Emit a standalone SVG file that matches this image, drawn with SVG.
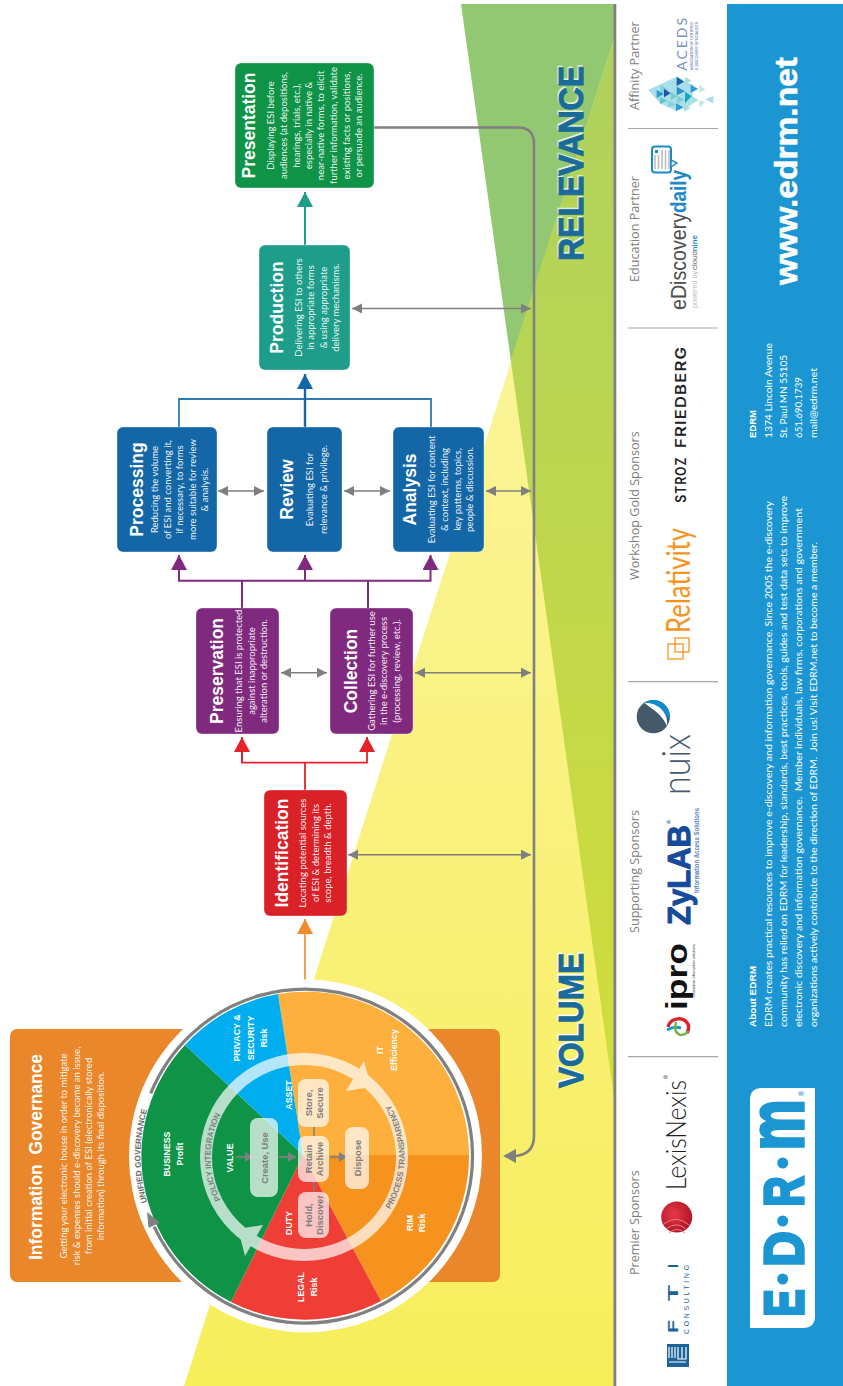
<svg xmlns="http://www.w3.org/2000/svg" xmlns:xlink="http://www.w3.org/1999/xlink" width="843" height="1386" viewBox="0 0 843 1386">
<style>
text{font-family:"Liberation Sans",Arial,sans-serif}
.node rect{stroke:#fff;stroke-opacity:.35;stroke-width:1}
.t{font:bold 17.5px "Liberation Sans",Arial,sans-serif;fill:#fff;text-anchor:middle}
.b{font:9.5px Lato,"Noto Sans",sans-serif;fill:#fff;fill-opacity:.95;text-anchor:middle}
.c{font:bold 8.8px "Liberation Sans",Arial,sans-serif;fill:#fff;text-anchor:middle}
.g{font:bold 9.4px "Liberation Sans",Arial,sans-serif;fill:#7d7d7d;text-anchor:middle}
.ring{font:bold 8.2px "Liberation Sans",Arial,sans-serif;fill:#808080;text-anchor:middle}
.s{font:12.6px "Open Sans",Lato,sans-serif;fill:#808080}
.a{font:9.6px Lato,"Noto Sans",sans-serif;fill:#fff}
.ab{font:bold 9.6px "Liberation Sans",Arial,sans-serif;fill:#fff}
.big{font:bold 35px "Liberation Sans",Arial,sans-serif;stroke-width:1}
.div{stroke:#a8a8a8;stroke-width:1.2;fill:none}
.dbl{stroke:#7f7f7f;stroke-width:1.5;fill:none;marker-start:url(#mg);marker-end:url(#mg)}
.box{fill:#fff;fill-opacity:.7}
</style>
<defs>
<linearGradient id="yg" gradientUnits="userSpaceOnUse" x1="0" y1="36" x2="0" y2="1386"><stop offset="0" stop-color="#fcf6ab"/><stop offset="1" stop-color="#f7ee5b"/></linearGradient>
<linearGradient id="og" gradientUnits="userSpaceOnUse" x1="0" y1="36" x2="0" y2="1105"><stop offset="0" stop-color="#aed15e"/><stop offset="1" stop-color="#d2dd3a"/></linearGradient>
<radialGradient id="sph" cx=".4" cy=".4" r=".7"><stop offset="0" stop-color="#e6384a"/><stop offset="1" stop-color="#a8121f"/></radialGradient>
<marker id="mg" markerUnits="userSpaceOnUse" markerWidth="11" markerHeight="11" refX="10" refY="5" orient="auto-start-reverse"><path d="M0 0L10 5L0 10Z" fill="#7f7f7f"/></marker>
<marker id="mo" markerUnits="userSpaceOnUse" markerWidth="16" markerHeight="16" refX="15" refY="8" orient="auto"><path d="M0 0L15 8L0 16Z" fill="#ee8b2c"/></marker>
<marker id="mr" markerUnits="userSpaceOnUse" markerWidth="16" markerHeight="16" refX="15" refY="8" orient="auto"><path d="M0 0L15 8L0 16Z" fill="#e52229"/></marker>
<marker id="mp" markerUnits="userSpaceOnUse" markerWidth="16" markerHeight="16" refX="15" refY="8" orient="auto"><path d="M0 0L15 8L0 16Z" fill="#7f2a7e"/></marker>
<marker id="mb" markerUnits="userSpaceOnUse" markerWidth="16" markerHeight="16" refX="15" refY="8" orient="auto"><path d="M0 0L15 8L0 16Z" fill="#1467a6"/></marker>
<marker id="mt" markerUnits="userSpaceOnUse" markerWidth="16" markerHeight="16" refX="15" refY="8" orient="auto"><path d="M0 0L15 8L0 16Z" fill="#1e9d8b"/></marker>
<marker id="ms" markerUnits="userSpaceOnUse" markerWidth="9" markerHeight="11" refX="8" refY="5" orient="auto"><path d="M0 0L8 5L0 10Z" fill="#808080"/></marker>
<path id="pPolicy" d="M243.6 1229A95 95 0 0 1 243.6 1085"/>
<path id="pProcess" d="M369 1234A101 101 0 0 0 369 1080"/>
<path id="pUnified" d="M179.1 1262A165 165 0 0 1 179.1 1050"/>
</defs>

<g id="background">
<polygon points="461,4 615,4 615,1105" fill="#93c872"/>
<polygon points="184,1386 615,36 615,1386" fill="url(#yg)"/>
<polygon points="510.8,360 615,36 615,1105" fill="url(#og)"/>
<rect x="613.5" y="4" width="2.8" height="1382" fill="#808080"/>
<rect x="727" y="4" width="116" height="1382" fill="#1c96d2"/>
</g>

<g id="labels-volume-relevance">
<text class="big" transform="translate(581.7,1086.5) rotate(-90)" fill="#fff" stroke="#fff" textLength="135" lengthAdjust="spacingAndGlyphs">VOLUME</text>
<text class="big" transform="translate(582.8,1088) rotate(-90)" fill="#1a6a9a" stroke="#1a6a9a" textLength="135" lengthAdjust="spacingAndGlyphs">VOLUME</text>
<text class="big" transform="translate(581.7,259.5) rotate(-90)" fill="#e4f2d8" stroke="#e4f2d8" textLength="195" lengthAdjust="spacingAndGlyphs">RELEVANCE</text>
<text class="big" transform="translate(582.8,261) rotate(-90)" fill="#1a6a9a" stroke="#1a6a9a" textLength="195" lengthAdjust="spacingAndGlyphs">RELEVANCE</text>
</g>

<g id="information-governance">
<rect x="10" y="1029" width="490" height="253" rx="7" fill="#e9872a"/>
<text transform="translate(42,1157) rotate(-90)" font-size="17.5" font-weight="bold" fill="#fff" text-anchor="middle" textLength="206" lengthAdjust="spacingAndGlyphs" xml:space="preserve">Information  Governance</text>
<text class="b" transform="translate(67,1156) rotate(-90)">Getting your electronic house in order to mitigate</text>
<text class="b" transform="translate(80,1156) rotate(-90)">risk &amp; expenses should e-discovery become an issue,</text>
<text class="b" transform="translate(92,1156) rotate(-90)">from initial creation of ESI (electronically stored</text>
<text class="b" transform="translate(104,1156) rotate(-90)">information) through its final disposition.</text>
</g>

<g id="connectors">
<path d="M305 985V919" fill="none" stroke="#ee8b2c" stroke-width="1.6" marker-end="url(#mo)"/>
<path d="M305 790V762.7" fill="none" stroke="#e52229" stroke-width="1.8"/>
<path d="M242 737V762.7H367V737" fill="none" stroke="#e52229" stroke-width="1.8" marker-end="url(#mr)"/>
<path d="M242 762.7V737" fill="none" stroke="#e52229" stroke-width="1.8" marker-end="url(#mr)"/>
<path d="M242 608V580.7M368 608V580.7" fill="none" stroke="#7f2a7e" stroke-width="2"/>
<path d="M179 555V580.7H430.5V555" fill="none" stroke="#7f2a7e" stroke-width="2" marker-end="url(#mp)"/>
<path d="M179 580.7V555" fill="none" stroke="#7f2a7e" stroke-width="2" marker-end="url(#mp)"/>
<path d="M305 580.7V555" fill="none" stroke="#7f2a7e" stroke-width="2" marker-end="url(#mp)"/>
<path d="M179 427V399H431V427" fill="none" stroke="#2e7ab0" stroke-width="1.8"/>
<path d="M305 427V374" fill="none" stroke="#1467a6" stroke-width="2.4" marker-end="url(#mb)"/>
<path d="M305 245V192" fill="none" stroke="#1e9d8b" stroke-width="2" marker-end="url(#mt)"/>
<path d="M374 127.5H518Q534 127.5 534 144V1136Q534 1156 512 1156" fill="none" stroke="#808080" stroke-width="2.6"/>
<polygon points="503,1156 516,1149 516,1163" fill="#808080"/>
<path class="dbl" d="M352 308.6H531"/>
<path class="dbl" d="M218 491H264"/>
<path class="dbl" d="M344 491H390"/>
<path class="dbl" d="M486 491H531"/>
<path class="dbl" d="M281 672.7H327"/>
<path class="dbl" d="M415 672.7H531"/>
<path class="dbl" d="M348 854.7H531"/>
</g>

<g id="wheel">
<circle cx="305.5" cy="1156" r="176.5" fill="#fff"/>
<path d="M303 1155L278 994A163.5 163.5 0 0 1 469 1155Z" fill="#fdb03d"/>
<path d="M303 1155L469 1155A163.5 163.5 0 0 1 381 1301Z" fill="#f6921e"/>
<path d="M303 1155L381 1301A163.5 163.5 0 0 1 231 1302Z" fill="#ef3e36"/>
<path d="M303 1155L231 1302A163.5 163.5 0 0 1 185 1045Z" fill="#0f9347"/>
<path d="M303 1155L185 1045A163.5 163.5 0 0 1 278 994Z" fill="#00aeef"/>
<path d="M150.7 1093.4A167 167 0 1 1 154.1 1226.6" fill="none" stroke="#808080" stroke-width="3.2"/>
<polygon points="147,1212 148.5,1228 160,1222.5" fill="#808080"/>
<text class="ring" style="fill:#6a6a6a"><textPath xlink:href="#pUnified" href="#pUnified" startOffset="50%">UNIFIED GOVERNANCE</textPath></text>
<g opacity=".7" fill="#fff">
<circle cx="304" cy="1157" r="98" fill="none" stroke="#fff" stroke-width="12"/>
<polygon points="364,1061 371,1087 346,1091"/>
<polygon points="263,1225 245,1256 238,1229"/>
</g>
<text class="ring"><textPath xlink:href="#pPolicy" href="#pPolicy" startOffset="50%">POLICY INTEGRATION</textPath></text>
<text class="ring"><textPath xlink:href="#pProcess" href="#pProcess" startOffset="50%">PROCESS TRANSPARENCY</textPath></text>
<g id="wheel-labels">
<text class="c" transform="translate(240,1038) rotate(-90)">PRIVACY &amp;</text>
<text class="c" transform="translate(254,1038) rotate(-90)">SECURITY</text>
<text class="c" transform="translate(267,1038) rotate(-90)">Risk</text>
<text class="c" transform="translate(383,1050) rotate(-90)">IT</text>
<text class="c" transform="translate(397,1050) rotate(-90)">Efficiency</text>
<text class="c" transform="translate(170,1154) rotate(-90)">BUSINESS</text>
<text class="c" transform="translate(183,1154) rotate(-90)">Profit</text>
<text class="c" transform="translate(413,1223) rotate(-90)">RIM</text>
<text class="c" transform="translate(425,1223) rotate(-90)">Risk</text>
<text class="c" transform="translate(304,1287) rotate(-90)">LEGAL</text>
<text class="c" transform="translate(317,1287) rotate(-90)">Risk</text>
<text class="c" transform="translate(292,1095) rotate(-90)">ASSET</text>
<text class="c" transform="translate(233,1158) rotate(-90)">VALUE</text>
<text class="c" transform="translate(292,1223) rotate(-90)">DUTY</text>
</g>
<g id="lifecycle">
<path d="M314 1127V1136M314 1182V1192" stroke="#808080" stroke-width="1.6" fill="none"/>
<path d="M330 1157H347" stroke="#808080" stroke-width="1.8" fill="none" marker-end="url(#ms)"/>
<path d="M236 1157H253" stroke="#808080" stroke-width="1.8" fill="none" marker-end="url(#ms)"/>
<path d="M279 1157H296" stroke="#808080" stroke-width="1.8" fill="none" marker-end="url(#ms)"/>
<rect class="box" x="250" y="1118" width="28" height="79" rx="8"/>
<rect class="box" x="298" y="1079" width="31" height="48" rx="8"/>
<rect class="box" x="298" y="1136" width="31" height="46" rx="8"/>
<rect class="box" x="298" y="1192" width="31" height="46" rx="8"/>
<rect class="box" x="345" y="1127" width="24" height="62" rx="8"/>
<text class="g" transform="translate(268,1158) rotate(-90)">Create, Use</text>
<text class="g" transform="translate(312,1103) rotate(-90)">Store,</text>
<text class="g" transform="translate(322.5,1103) rotate(-90)">Secure</text>
<text class="g" transform="translate(312,1159) rotate(-90)">Retain</text>
<text class="g" transform="translate(322.5,1159) rotate(-90)">Archive</text>
<text class="g" transform="translate(312,1215) rotate(-90)">Hold,</text>
<text class="g" transform="translate(322.5,1215) rotate(-90)">Discover</text>
<text class="g" transform="translate(361,1158) rotate(-90)">Dispose</text>
</g>
</g>

<g id="identification" class="node">
<rect x="264" y="790" width="83" height="126" rx="6" fill="#da2128"/>
<text class="t" transform="translate(288,853) rotate(-90)">Identification</text>
<text class="b" transform="translate(306,853) rotate(-90)">Locating potential sources</text>
<text class="b" transform="translate(319,853) rotate(-90)">of ESI &amp; determining its</text>
<text class="b" transform="translate(331,853) rotate(-90)">scope, breadth &amp; depth.</text>
</g>
<g id="preservation" class="node">
<rect x="196" y="608" width="83" height="126" rx="6" fill="#7f2a7e"/>
<text class="t" transform="translate(223,671) rotate(-90)">Preservation</text>
<text class="b" transform="translate(242,671) rotate(-90)">Ensuring that ESI is protected</text>
<text class="b" transform="translate(255,671) rotate(-90)">against inappropriate</text>
<text class="b" transform="translate(267,671) rotate(-90)">alteration or destruction.</text>
</g>
<g id="collection" class="node">
<rect x="330" y="608" width="83" height="126" rx="6" fill="#7f2a7e"/>
<text class="t" transform="translate(357,671) rotate(-90)">Collection</text>
<text class="b" transform="translate(375,671) rotate(-90)">Gathering ESI for further use</text>
<text class="b" transform="translate(387,671) rotate(-90)">in the e-discovery process</text>
<text class="b" transform="translate(400,671) rotate(-90)">(processing, review, etc.).</text>
</g>
<g id="processing" class="node">
<rect x="117" y="427" width="100" height="125" rx="6" fill="#1467a6"/>
<text class="t" transform="translate(143,489.5) rotate(-90)">Processing</text>
<text class="b" transform="translate(158,489.5) rotate(-90)">Reducing the volume</text>
<text class="b" transform="translate(171,489.5) rotate(-90)">of ESI and converting it,</text>
<text class="b" transform="translate(183,489.5) rotate(-90)">if necessary, to forms</text>
<text class="b" transform="translate(196,489.5) rotate(-90)">more suitable for review</text>
<text class="b" transform="translate(208,489.5) rotate(-90)">&amp; analysis.</text>
</g>
<g id="review" class="node">
<rect x="267" y="427" width="75" height="125" rx="6" fill="#1467a6"/>
<text class="t" transform="translate(293,489.5) rotate(-90)">Review</text>
<text class="b" transform="translate(313,489.5) rotate(-90)">Evaluating ESI for</text>
<text class="b" transform="translate(327,489.5) rotate(-90)">relevance &amp; privilege.</text>
</g>
<g id="analysis" class="node">
<rect x="393" y="427" width="91" height="125" rx="6" fill="#1467a6"/>
<text class="t" transform="translate(416,489.5) rotate(-90)">Analysis</text>
<text class="b" transform="translate(435,489.5) rotate(-90)">Evaluating ESI for content</text>
<text class="b" transform="translate(448,489.5) rotate(-90)">&amp; context, including</text>
<text class="b" transform="translate(461,489.5) rotate(-90)">key patterns, topics,</text>
<text class="b" transform="translate(473,489.5) rotate(-90)">people &amp; discussion.</text>
</g>
<g id="production" class="node">
<rect x="259" y="245" width="91" height="125" rx="6" fill="#1e9d8b"/>
<text class="t" transform="translate(283,307.5) rotate(-90)">Production</text>
<text class="b" transform="translate(302,307.5) rotate(-90)">Delivering ESI to others</text>
<text class="b" transform="translate(314,307.5) rotate(-90)">in appropriate forms</text>
<text class="b" transform="translate(327,307.5) rotate(-90)">&amp; using appropriate</text>
<text class="b" transform="translate(339,307.5) rotate(-90)">delivery mechanisms.</text>
</g>
<g id="presentation" class="node">
<rect x="235" y="63" width="139" height="125" rx="6" fill="#0f9347"/>
<text class="t" transform="translate(255,125.5) rotate(-90)">Presentation</text>
<text class="b" transform="translate(274,125.5) rotate(-90)">Displaying ESI before</text>
<text class="b" transform="translate(287,125.5) rotate(-90)">audiences (at depositions,</text>
<text class="b" transform="translate(300,125.5) rotate(-90)">hearings, trials, etc.),</text>
<text class="b" transform="translate(312,125.5) rotate(-90)">especially in native &amp;</text>
<text class="b" transform="translate(324,125.5) rotate(-90)">near-native forms, to elicit</text>
<text class="b" transform="translate(337,125.5) rotate(-90)">further information, validate</text>
<text class="b" transform="translate(350,125.5) rotate(-90)">existing facts or positions,</text>
<text class="b" transform="translate(362,125.5) rotate(-90)">or persuade an audience.</text>
</g>

<g id="sponsors">
<path class="div" d="M628 128.5H718M628 328H718M628 681.7H718M628 1056.7H718"/>
<text class="s" transform="translate(639,1275) rotate(-90)">Premier Sponsors</text>
<text class="s" transform="translate(639,933) rotate(-90)">Supporting Sponsors</text>
<text class="s" transform="translate(639,580) rotate(-90)">Workshop Gold Sponsors</text>
<text class="s" transform="translate(639,282) rotate(-90)">Education Partner</text>
<text class="s" transform="translate(639,110) rotate(-90)">Affinity Partner</text>
</g>

<g id="logo-fti">
<rect x="667" y="1344" width="22" height="23" fill="#1c6399"/>
<path d="M669 1347V1358M672 1347V1358M675 1347V1358M669 1362H686" stroke="#fff" stroke-width="1.2" fill="none"/>
<path d="M678 1347V1359H686V1347M682 1347V1359" stroke="#fff" stroke-width="1.2" fill="none"/>
<g font-size="15" font-weight="bold" fill="#1c6399">
<text transform="translate(678,1333) rotate(-90)" textLength="13" lengthAdjust="spacingAndGlyphs">F</text>
<text transform="translate(678,1301) rotate(-90)" textLength="16" lengthAdjust="spacingAndGlyphs">T</text>
<text transform="translate(678,1268) rotate(-90)" textLength="4" lengthAdjust="spacingAndGlyphs">I</text>
</g>
<text transform="translate(689,1334) rotate(-90)" font-size="6.8" fill="#1c6399" textLength="69">CONSULTING</text>
</g>
<g id="logo-lexisnexis">
<circle cx="676.7" cy="1217" r="15.5" fill="url(#sph)"/>
<path d="M664 1224Q676 1214 689 1225M666 1229Q677 1220 687 1230M669 1233Q677 1226 685 1233" stroke="#ee7d85" stroke-width="1" fill="none"/>
<text transform="translate(685.7,1190) rotate(-90)" font-size="28" font-weight="300" fill="#222" textLength="110" lengthAdjust="spacingAndGlyphs" style="font-family:Lato,sans-serif">LexisNexis</text>
<text transform="translate(668,1079) rotate(-90)" font-size="5.5" fill="#222">®</text>
</g>
<g id="logo-ipro">
<path d="M668 1027A11 11 0 0 1 688.5 1025Q689 1030 687 1033" stroke="#d9232e" stroke-width="3.4" fill="none"/>
<path d="M667 1030Q674 1026 681 1028" stroke="#1c96d2" stroke-width="3" fill="none"/>
<path d="M676 1022Q673 1032 680 1035Q686 1035 688 1031" stroke="#6db33f" stroke-width="2.4" fill="none"/>
<text transform="translate(686.5,1010) rotate(-90)" font-size="30" font-weight="bold" fill="#111" textLength="67" lengthAdjust="spacingAndGlyphs">ipro</text>
<text transform="translate(695,997) rotate(-90)" font-size="3.6" fill="#333" textLength="53" lengthAdjust="spacingAndGlyphs">innovative information solutions</text>
</g>
<g id="logo-zylab">
<text transform="translate(690,925) rotate(-90)" font-size="32" font-weight="bold" fill="#164a9b" stroke="#164a9b" stroke-width="1" textLength="100" lengthAdjust="spacingAndGlyphs">ZyLAB</text>
<text transform="translate(671,824) rotate(-90)" font-size="6" fill="#164a9b">®</text>
<text transform="translate(699,893) rotate(-90)" font-size="7.4" font-weight="bold" fill="#5b7ec6" textLength="85" lengthAdjust="spacingAndGlyphs">Information Access Solutions</text>
</g>
<g id="logo-nuix">
<circle cx="653.3" cy="716.7" r="16.6" fill="#44596a"/>
<path d="M644 703A16.6 16.6 0 0 1 669.7 720C664 710 655 704 644 703Z" fill="#0b8dcb"/>
<path d="M644.5 703C657 702 669 712 667 726C662 714 652 709 644.5 703Z" fill="#fff"/>
<text transform="translate(690,795) rotate(-90)" font-size="39" font-weight="300" fill="#44596a" textLength="61" lengthAdjust="spacingAndGlyphs" style="font-family:Lato,sans-serif">nuix</text>
</g>
<g id="logo-relativity">
<rect x="668" y="644" width="15" height="15" fill="none" stroke="#f7941e" stroke-width="1.3"/>
<rect x="675" y="638" width="14" height="14" fill="none" stroke="#f7941e" stroke-width="1.3"/>
<text transform="translate(690,633) rotate(-90)" font-size="32" fill="#f7941e" textLength="105" lengthAdjust="spacingAndGlyphs" style="font-family:Lato,sans-serif">Relativity</text>
</g>
<g id="logo-stroz">
<text transform="translate(685.7,502.7) rotate(-90)" font-size="14" font-weight="600" fill="#222" textLength="46" lengthAdjust="spacingAndGlyphs" style="font-family:Inter,sans-serif;letter-spacing:1px">STROZ</text>
<text transform="translate(685.7,448) rotate(-90)" font-size="14" font-weight="600" fill="#222" textLength="102" lengthAdjust="spacingAndGlyphs" style="font-family:Inter,sans-serif;letter-spacing:1px">FRIEDBERG</text>
</g>
<g id="logo-ediscovery">
<rect x="652" y="146.5" width="19" height="26" rx="3" fill="#fff" stroke="#1c8ac8" stroke-width="2"/>
<path d="M671 160L677 163L671 167Z" fill="#fff" stroke="#1c8ac8" stroke-width="1.4"/>
<rect x="655" y="150" width="3" height="3" fill="#1c8ac8"/>
<path d="M655 155V169M658.5 155V169M662 150V169M665.5 150V169M669 150V169" stroke="#bbb" stroke-width="1.5" fill="none"/>
<text transform="translate(685.7,310) rotate(-90)" font-size="22" fill="#4d4d4d" textLength="97" lengthAdjust="spacingAndGlyphs">eDiscovery</text>
<text transform="translate(685.7,213) rotate(-90)" font-size="22" font-weight="bold" fill="#1c8ac8" textLength="43" lengthAdjust="spacingAndGlyphs">daily</text>
<text transform="translate(696.7,308) rotate(-90)" font-size="7" fill="#bbb" textLength="37" lengthAdjust="spacingAndGlyphs">powered by</text>
<text transform="translate(696.7,270) rotate(-90)" font-size="7.5" fill="#666" textLength="35" lengthAdjust="spacingAndGlyphs">cloud<tspan fill="#1c8ac8" font-weight="bold">nine</tspan></text>
</g>
<g id="logo-aceds">
<g transform="translate(640,10) scale(.3333)">
<polygon points="25,240 110,200 160,225 155,285 110,303 60,280" fill="#a9dfe6"/>
<polygon points="110,200 132,215 110,228" fill="#1a5fb0"/>
<polygon points="135,200 155,212 135,222" fill="#a5e0dc"/>
<polygon points="85,213 108,228 85,240" fill="#a9dff5"/>
<polygon points="110,230 135,244 110,256" fill="#2d8ec8"/>
<polygon points="152,224 175,237 152,248" fill="#2d9ad8"/>
<polygon points="178,224 196,240 178,248" fill="#bfe8e4"/>
<polygon points="62,224 85,240 62,250" fill="#7ccfd8"/>
<polygon points="25,240 50,228 50,252" fill="#a7dcef"/>
<polygon points="50,240 72,252 50,264" fill="#2d9ad8"/>
<polygon points="72,236 92,250 72,262" fill="#254ea8"/>
<polygon points="92,246 112,258 92,270" fill="#6fcfc0"/>
<polygon points="112,258 135,268 112,280" fill="#7ccfd8"/>
<polygon points="135,246 155,258 135,280" fill="#14a8c4"/>
<polygon points="60,262 82,272 60,282" fill="#5cc5c8"/>
<polygon points="85,272 108,284 85,292" fill="#7fd0e0"/>
<polygon points="108,280 130,292 108,303" fill="#2d9ad8"/>
<polygon points="132,284 152,294 132,305" fill="#a5e0dc"/>
<polygon points="156,258 176,270 156,282" fill="#a5e0dc"/>
<polygon points="178,270 196,276 178,292" fill="#bfe8e4"/>
<polygon points="196,268 220,258 220,280" fill="#a7dcef"/>
</g>
<text transform="translate(686.7,70.7) rotate(-90)" font-size="14" fill="#7f93bd" textLength="52.7" style="font-family:Lato,sans-serif">ACEDS</text>
<text transform="translate(692.7,70) rotate(-90)" font-size="3.5" font-weight="bold" fill="#7f93bd" textLength="48">ASSOCIATION OF CERTIFIED</text>
<text transform="translate(698,70) rotate(-90)" font-size="3.5" font-weight="bold" fill="#7f93bd" textLength="48">E-DISCOVERY SPECIALISTS</text>
</g>

<g id="about">
<path d="M762 1088H815V1316Q815 1328 803 1328H750V1100Q750 1088 762 1088Z" fill="#fff"/>
<g fill="#1c96d2" stroke="#1c96d2" stroke-width="3.4" font-weight="bold">
<text transform="translate(802.5,1316.5) rotate(-90)" font-size="56" textLength="27" lengthAdjust="spacingAndGlyphs">E</text>
<text transform="translate(802.5,1266.5) rotate(-90)" font-size="56" textLength="35" lengthAdjust="spacingAndGlyphs">D</text>
<text transform="translate(802.5,1206.5) rotate(-90)" font-size="56" textLength="30" lengthAdjust="spacingAndGlyphs">R</text>
<text transform="translate(802.5,1150.5) rotate(-90)" font-size="78" textLength="51" lengthAdjust="spacingAndGlyphs">m</text>
</g>
<g fill="#1c96d2">
<circle cx="782.7" cy="1279" r="5.5"/><circle cx="782.7" cy="1221" r="5.5"/><circle cx="782.7" cy="1163" r="5.5"/>
<text transform="translate(804,1096) rotate(-90)" font-size="7" font-weight="bold">®</text>
</g>
<text class="ab" transform="translate(756,1027) rotate(-90)" textLength="61" lengthAdjust="spacingAndGlyphs">About EDRM</text>
<text class="a" transform="translate(771.5,1027) rotate(-90)" textLength="526" lengthAdjust="spacingAndGlyphs">EDRM creates practical resources to improve e-discovery and information governance. Since 2005 the e-discovery</text>
<text class="a" transform="translate(786.7,1027) rotate(-90)" textLength="531" lengthAdjust="spacingAndGlyphs">community has relied on EDRM for leadership, standards, best practices, tools, guides and test data sets to improve</text>
<text class="a" transform="translate(802,1027) rotate(-90)" textLength="519" lengthAdjust="spacingAndGlyphs" xml:space="preserve">electronic discovery and information governance.  Member individuals, law firms, corporations and government</text>
<text class="a" transform="translate(817,1027) rotate(-90)" textLength="485" lengthAdjust="spacingAndGlyphs" xml:space="preserve">organizations actively contribute to the direction of EDRM.  Join us! Visit EDRM.net to become a member.</text>
<text class="ab" transform="translate(756,438) rotate(-90)" textLength="28" lengthAdjust="spacingAndGlyphs">EDRM</text>
<text class="a" transform="translate(771.5,438) rotate(-90)" textLength="95" lengthAdjust="spacingAndGlyphs">1374 Lincoln Avenue</text>
<text class="a" transform="translate(786.7,438) rotate(-90)" textLength="83" lengthAdjust="spacingAndGlyphs">St. Paul MN 55105</text>
<text class="a" transform="translate(802,438) rotate(-90)" textLength="61" lengthAdjust="spacingAndGlyphs">651.690.1739</text>
<text class="a" transform="translate(817,438) rotate(-90)" textLength="70" lengthAdjust="spacingAndGlyphs">mail@edrm.net</text>
<text transform="translate(796.7,285) rotate(-90)" font-size="31" font-weight="bold" fill="#fff" stroke="#fff" stroke-width=".5" textLength="228" lengthAdjust="spacingAndGlyphs">www.edrm.net</text>
</g>
</svg>
